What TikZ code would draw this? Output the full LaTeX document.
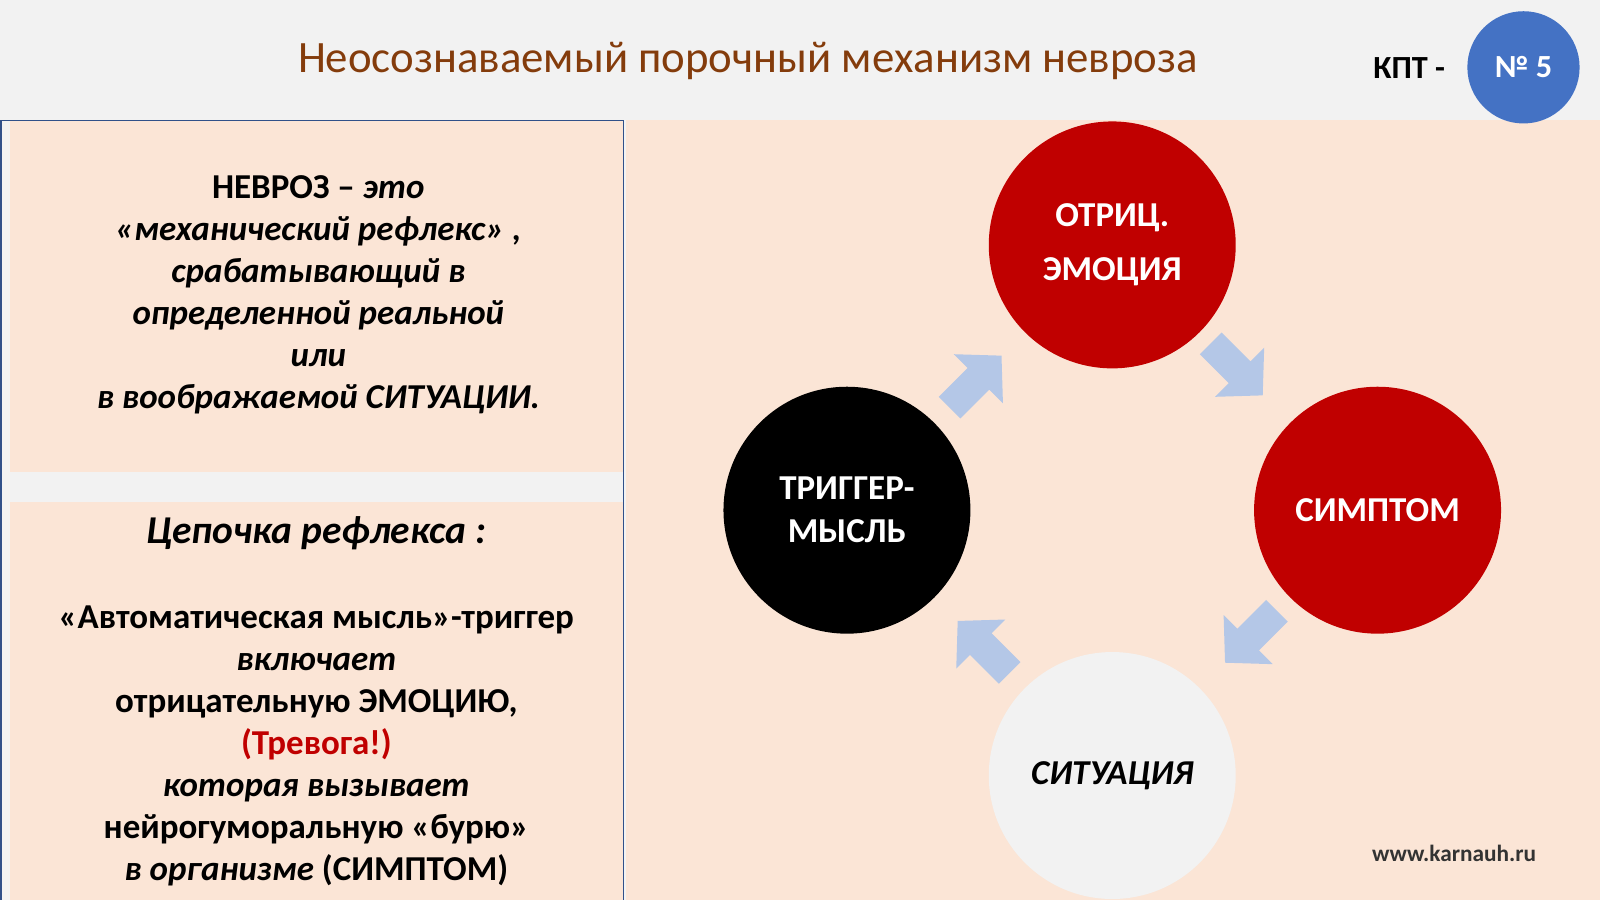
\documentclass[tikz,border=0pt]{standalone}
\usepackage{fontspec}
\setmainfont{Carlito}
\definecolor{peach}{HTML}{FBE5D6}
\definecolor{band}{HTML}{F2F2F2}
\definecolor{dred}{HTML}{C00000}
\definecolor{ablue}{HTML}{B4C7E7}
\definecolor{kblue}{HTML}{4472C4}
\definecolor{titlec}{HTML}{843C0C}
\tikzset{
 circ/.style={circle,minimum size=242*0.02cm,inner sep=0pt,align=center,font=\fontsize{19.5}{30}\selectfont\bfseries,text=white},
 ltext/.style={align=center,font=\fontsize{19.5}{23.5}\selectfont\bfseries}
}
\newcommand{\blockarrow}[2]{\fill[ablue,shift={(#1)},rotate=#2] (-36,-15) -- (4,-15) -- (4,-34) -- (36,0) -- (4,34) -- (4,15) -- (-36,15) -- cycle;}
\begin{document}
\begin{tikzpicture}[x=0.02cm,y=-0.02cm]
\useasboundingbox (0,0) rectangle (1568,882);
\fill[band] (0,0) rectangle (1568,882);
\fill[peach] (613,118) rectangle (1568,882);
\fill[peach] (10,118) rectangle (611,882);
\fill[band] (10,463) rectangle (611,492);
\draw[kblue!70!black,line width=0.8pt] (1,882) -- (1,118) -- (611,118) -- (611,882);
\node[font=\fontsize{25}{28}\selectfont,text=titlec] (title) at (733,60) {Неосознаваемый порочный механизм невроза};
\node[font=\fontsize{18}{20}\selectfont\bfseries] (kpt) at (1381,67) {КПТ -};
\node[circle,fill=kblue,minimum size=110*0.02cm,text=white,font=\fontsize{18}{20}\selectfont\bfseries] (num) at (1493,66) {№ 5};
\node[ltext] (def) at (312,289) {НЕВРОЗ -- \itshape это\\ \itshape «механический рефлекс» ,\\ \itshape срабатывающий в\\ \itshape определенной реальной\\ \itshape или\\ \itshape в воображаемой СИТУАЦИИ.};
\node[font=\fontsize{22}{26}\selectfont\bfseries\itshape] (chainh) at (310,523) {Цепочка рефлекса :};
\node[ltext] (chain) at (310,731) {«Автоматическая мысль»-триггер\\ \itshape включает\\ отрицательную ЭМОЦИЮ,\\ \textcolor{dred}{(Тревога!)}\\ \itshape которая вызывает\\ нейрогуморальную «бурю»\\ {\itshape в организме} (СИМПТОМ)};
\node[circ,fill=dred,font=\fontsize{19.5}{30}\selectfont\bfseries] (emo) at (1090,240) {ОТРИЦ.\\ЭМОЦИЯ};
\node[circ,fill=dred] (sym) at (1350,500) {СИМПТОМ};
\node[circ,fill=band,text=black,font=\fontsize{19.5}{22}\selectfont\bfseries\itshape] (sit) at (1090,760) {СИТУАЦИЯ};
\node[circ,fill=black,font=\fontsize{19.5}{24}\selectfont\bfseries] (trig) at (830,500) {ТРИГГЕР-\\МЫСЛЬ};
\coordinate (a1) at (956,374);
\coordinate (a2) at (1212,362);
\coordinate (a3) at (1226,624);
\coordinate (a4) at (964,634);
\blockarrow{a1}{45}
\blockarrow{a2}{-45}
\blockarrow{a3}{-135}
\blockarrow{a4}{135}
\node[font=\fontsize{13}{15}\selectfont\bfseries,text=black!80] (url) at (1425,836) {www.karnauh.ru};
\end{tikzpicture}
\end{document}
